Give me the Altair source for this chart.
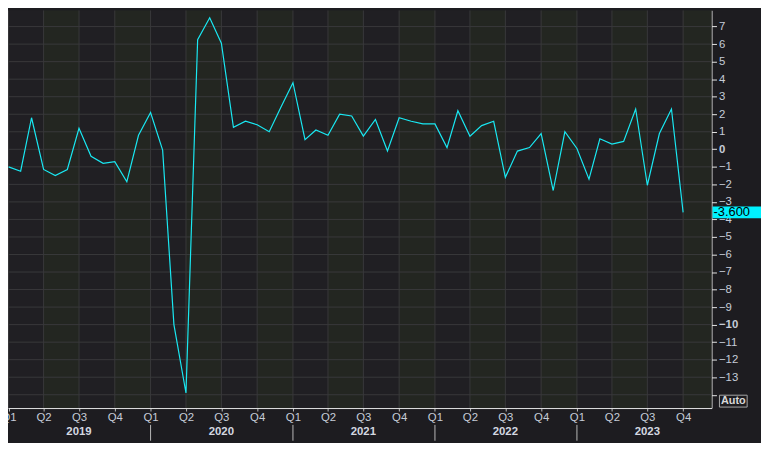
import altair as alt
import pandas as pd

# ---------------- data ----------------
months = pd.date_range("2019-01-01", "2023-10-01", freq="MS").strftime("%Y-%m-%d").tolist()

values_2019 = [-1.0, -1.25, 1.8, -1.15, -1.5, -1.15, 1.2, -0.4, -0.8, -0.7, -1.85, 0.8]
values_2020 = [2.1, -0.05, -10.0, -13.9, 6.25, 7.5, 6.05, 1.25, 1.6, 1.4, 1.0, 2.4]
values_2021 = [3.8, 0.55, 1.1, 0.8, 2.0, 1.9, 0.75, 1.7, -0.1, 1.8, 1.6, 1.45]
values_2022 = [1.45, 0.1, 2.2, 0.75, 1.35, 1.6, -1.6, -0.1, 0.1, 0.9, -2.35, 1.0]
values_2023 = [0.05, -1.7, 0.6, 0.3, 0.45, 2.3, -2.05, 0.9, 2.3, -3.6]
values = values_2019 + values_2020 + values_2021 + values_2022 + values_2023

y_ticks = list(range(-14, 9))
quarter_starts = pd.date_range("2019-01-01", "2023-10-01", freq="QS").strftime("%Y-%m-%d").tolist()
band_starts = [d for d in quarter_starts if d[5:7] in ("04", "10")]
band_ends = pd.date_range("2019-07-01", "2024-01-01", freq="6MS").strftime("%Y-%m-%d").tolist()
year_labels = ["2019", "2020", "2021", "2022", "2023"]
year_label_pos = ["2019-07-01", "2020-07-01", "2021-07-01", "2022-07-01", "2023-07-01"]
year_bounds = ["2020-01-01", "2021-01-01", "2022-01-01", "2023-01-01"]
last_value = [-3.6]
last_label = ["-3.600"]

# ---------------- layout / style ----------------
W, H = 711, 402
BG = "#1d1c20"
VIEW = "#201f23"
BAND = "#232621"
GRID = "#39393b"
TXT = "#c6ccd8"
LINE = "#19e8f2"
CYAN = "#00f2ff"
FONT = "Liberation Sans"
FS = 11.5

df = pd.DataFrame({"date": months, "value": values})
bands = pd.DataFrame({"date": band_starts, "end": band_ends})
hgrid = pd.DataFrame({"value": y_ticks})
vgrid = pd.DataFrame({"date": quarter_starts})
years = pd.DataFrame({"date": year_label_pos, "label": year_labels})
ybounds = pd.DataFrame({"date": year_bounds})
last = pd.DataFrame({"value": last_value, "label": last_label})
auto = pd.DataFrame({"t": ["Auto"]})

xs = alt.Scale(
    type="utc",
    domain=[
        alt.DateTime(year=2018, month=12, date=30, hours=12, utc=True),
        alt.DateTime(year=2023, month=12, date=13, utc=True),
    ],
)
ys = alt.Scale(domain=[-14.76, 7.93], nice=False, zero=False)

x_axis = alt.Axis(
    values=[alt.DateTime(year=int(d[:4]), month=int(d[5:7]), date=1, utc=True) for d in quarter_starts],
    labelExpr="'Q' + utcquarter(datum.value)",
    title=None,
    grid=False,
    domainColor="#e6e6e6",
    tickColor="#bfbfbf",
    tickSize=3,
    labelColor=TXT,
    labelFont=FONT,
    labelFontSize=FS,
    labelPadding=1,
    labelFlush=False,
    labelOverlap=False,
)
y_axis = alt.Axis(
    orient="right",
    values=y_ticks,
    labelExpr="datum.value == -14 ? '' : datum.label",
    title=None,
    grid=False,
    domainColor="#e6e6e6",
    tickColor="#e6e6e6",
    tickSize=5,
    labelColor=TXT,
    labelFont=FONT,
    labelFontSize=FS,
    labelPadding=2,
    labelBaseline="middle",
    labelFlush=False,
    labelOverlap=False,
    labelFontWeight=alt.expr("datum.value == 0 || datum.value == -10 ? 'bold' : 'normal'"),
)

X = alt.X("date:T", scale=xs, axis=x_axis)
Y = alt.Y("value:Q", scale=ys, axis=y_axis)

band_layer = alt.Chart(bands).mark_rect(color=BAND, clip=True).encode(x=X, x2="end:T")
hgrid_layer = alt.Chart(hgrid).mark_rule(color=GRID, strokeWidth=1, clip=True).encode(y=Y)
vgrid_layer = alt.Chart(vgrid).mark_rule(color=GRID, strokeWidth=1, clip=True).encode(x=X)
line_layer = alt.Chart(df).mark_line(color=LINE, strokeWidth=1.2, clip=True).encode(x=X, y=Y)

year_text = alt.Chart(years).mark_text(
    color="#d4d8e0", font=FONT, fontSize=FS, fontWeight="bold", baseline="middle"
).encode(x=X, y=alt.value(H + 24), text="label:N")
year_sep = alt.Chart(ybounds).mark_rule(color="#b8b8b8", strokeWidth=1).encode(
    x=X, y=alt.value(H + 17), y2=alt.value(H + 33)
)

last_box = alt.Chart(last).mark_rect(color=CYAN, height=12).encode(
    x=alt.value(W + 1), x2=alt.value(W + 50), y=Y
)
last_text = alt.Chart(last).mark_text(
    color="#000000", font=FONT, fontSize=13, align="left", baseline="middle"
).encode(x=alt.value(W + 2), y=Y, text="label:N")

auto_box = alt.Chart(auto).mark_rect(fill=BG, stroke="#a8a8a8", strokeWidth=1).encode(
    x=alt.value(W + 8), x2=alt.value(W + 36), y=alt.value(H - 13), y2=alt.value(H - 1)
)
auto_text = alt.Chart(auto).mark_text(
    color="#d8d8d8", font=FONT, fontSize=11, fontWeight="bold", align="center", baseline="middle"
).encode(x=alt.value(W + 22), y=alt.value(H - 7), text="t:N")

chart = alt.layer(
    band_layer, hgrid_layer, vgrid_layer, line_layer,
    year_text, year_sep, last_box, last_text, auto_box, auto_text,
).properties(
    width=W,
    height=H,
    background=BG,
    padding={"left": 0, "top": 0, "right": 50, "bottom": 33},
    autosize=alt.AutoSizeParams(type="none"),
).configure_view(fill=VIEW, stroke=None)

chart.save("out.html", embed_options={"renderer": "svg", "actions": False})
